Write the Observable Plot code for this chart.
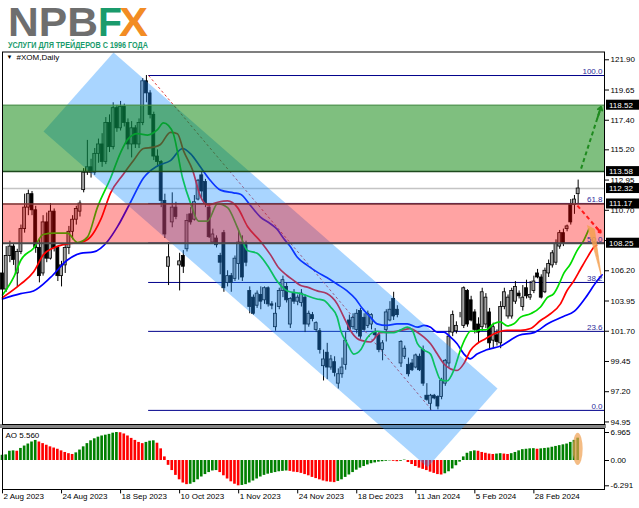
<!DOCTYPE html>
<html><head><meta charset="utf-8">
<script src="https://cdn.jsdelivr.net/npm/d3@7"></script>
<script src="https://cdn.jsdelivr.net/npm/@observablehq/plot@0.6"></script>
<style>
body{margin:0;background:#fff;}
#wrap{position:relative;width:639px;height:508px;overflow:hidden;background:#fff;font-family:"Liberation Sans",Arial,sans-serif;}
#wrap > svg, #wrap > div{position:absolute;left:0;}
</style></head><body><div id="wrap">
<svg id="logo" width="200" height="50" style="top:0">
 <text x="8" y="36" font-family="Liberation Sans, Arial, sans-serif" font-weight="bold" font-size="41" fill="#6e6e6e" textLength="90" lengthAdjust="spacingAndGlyphs">NPB</text>
 <text x="98" y="36" font-family="Liberation Sans, Arial, sans-serif" font-weight="bold" font-size="41" fill="#1a9b6c" textLength="24" lengthAdjust="spacingAndGlyphs">F</text>
 <text x="119" y="36" font-family="Liberation Sans, Arial, sans-serif" font-weight="bold" font-size="41" fill="#f28c24" textLength="29" lengthAdjust="spacingAndGlyphs">X</text>
 <text x="8" y="47.5" font-family="Liberation Sans Narrow, Liberation Sans, Arial, sans-serif" font-weight="bold" font-size="9" fill="#1a9b6c" textLength="140" lengthAdjust="spacingAndGlyphs">УСЛУГИ ДЛЯ ТРЕЙДЕРОВ С 1996 ГОДА</text>
</svg>
</div>
<script>
// ---------- data ----------
const open = [106.0,104.8,107.3,108.0,106.0,107.6,109.3,110.9,111.9,110.7,
107.9,106.0,109.8,107.1,110.6,107.9,105.8,106.6,107.9,109.1,
110.0,110.6,112.2,113.5,113.9,113.5,114.9,115.6,114.3,117.2,
115.4,118.3,116.8,118.4,117.2,115.6,116.8,115.6,117.2,120.3,
119.4,117.8,114.7,114.3,111.4,106.5,109.8,110.9,106.6,107.3,
107.8,110.4,110.0,111.5,113.3,112.8,110.9,108.3,108.6,107.3,
109.0,105.3,105.8,105.6,106.7,108.3,108.1,104.7,104.2,103.6,
104.4,104.0,104.9,103.7,102.0,103.5,104.7,105.0,102.2,104.5,
103.9,103.8,104.2,102.2,102.9,101.8,101.7,99.1,100.1,99.0,
99.4,97.8,98.5,99.2,102.5,102.0,101.8,103.2,102.7,102.1,
102.2,101.6,101.4,100.3,101.8,102.5,104.1,103.3,99.3,99.8,
99.2,99.3,99.0,99.8,100.3,96.9,96.3,96.9,96.8,96.8,
97.8,99.3,101.6,101.7,102.9,102.1,104.7,104.0,103.1,102.2,
102.0,102.2,103.1,101.0,101.4,100.8,103.5,102.8,102.8,103.9,
104.5,103.5,104.9,104.2,104.7,106.0,105.7,104.6,106.0,106.6,
106.8,108.0,109.0,109.3,111.1,111.1,111.9];
const high = [106.6,108.0,108.4,108.2,107.8,109.6,111.9,112.2,112.1,111.0,
108.6,110.3,110.5,111.2,110.8,108.0,106.9,108.2,109.5,110.3,
111.0,111.4,113.8,115.9,114.5,115.3,116.0,116.4,117.6,117.8,
118.7,118.5,118.8,118.6,117.5,117.3,117.0,117.5,120.5,120.73,
119.6,118.0,115.2,114.4,111.9,108.3,112.0,111.3,107.5,107.7,
110.4,110.9,111.8,113.0,113.6,113.0,111.2,109.3,108.8,107.5,
109.2,106.2,106.0,107.3,109.2,108.8,108.4,105.0,104.4,104.7,
105.0,105.0,105.0,103.9,103.8,104.9,105.8,105.3,104.2,104.8,
104.4,104.8,104.4,103.2,103.1,102.4,101.9,100.3,100.8,99.9,
99.8,98.9,99.7,101.6,102.9,103.0,103.3,103.4,103.0,103.2,
103.0,101.9,101.6,101.0,103.3,103.9,104.6,103.6,101.0,100.6,
99.7,99.6,100.0,100.0,100.6,97.8,97.0,97.0,96.9,98.2,
99.6,102.0,103.2,102.4,103.1,105.0,104.8,104.3,103.3,102.7,
104.9,104.5,103.4,102.3,101.8,103.9,104.9,104.4,104.9,105.4,
104.7,105.1,105.5,105.4,105.8,106.3,105.9,106.4,107.0,107.7,
108.5,109.2,109.3,109.6,111.5,111.8,112.95];
const low = [104.3,104.6,106.8,106.6,105.0,107.4,109.0,110.3,110.3,107.5,
105.3,105.8,106.8,107.0,107.6,105.4,105.0,106.0,107.4,108.5,
109.6,110.2,112.0,113.3,113.1,113.3,114.2,113.9,114.1,115.0,
115.2,116.5,116.6,116.9,115.2,114.6,115.3,115.3,117.0,118.7,
117.5,114.4,113.9,110.9,108.6,105.1,109.4,110.0,104.7,106.0,
107.6,109.6,109.9,111.4,111.6,110.9,108.6,108.2,107.9,105.9,
104.6,105.0,104.6,105.4,105.5,105.4,106.5,103.0,102.9,103.4,
103.3,103.7,103.5,103.3,101.7,103.3,104.2,103.8,101.9,103.7,
103.6,103.5,101.6,102.0,102.4,101.6,100.0,98.0,98.1,98.8,
98.3,97.4,98.2,98.8,101.7,101.8,101.5,101.1,101.7,101.9,
101.8,101.2,100.1,99.5,100.9,102.4,102.5,102.7,99.0,99.6,
98.3,98.7,98.9,98.7,97.6,96.5,95.81,96.6,95.85,96.6,
97.6,99.0,101.3,101.5,102.7,101.9,102.0,102.4,101.5,100.8,
101.7,101.9,100.3,100.4,100.6,100.4,103.3,102.6,102.6,103.7,
104.1,103.2,104.1,104.0,104.5,105.6,104.1,104.5,105.7,106.4,
106.6,107.8,108.0,109.1,109.6,110.4,111.2];
const close = [104.8,107.3,108.0,107.0,107.6,109.3,110.9,111.9,110.7,107.9,
105.8,109.8,107.1,110.6,107.9,105.8,106.6,107.9,109.1,110.0,
110.8,111.2,113.5,113.9,113.5,114.9,115.6,114.3,117.2,115.4,
118.3,116.8,118.4,117.2,115.6,116.8,115.6,117.2,120.3,119.4,
117.8,114.7,114.3,111.4,108.9,107.2,110.9,110.2,106.9,106.5,
109.9,109.8,111.3,112.9,112.1,111.2,108.7,108.9,108.1,106.8,
104.9,105.8,105.3,107.1,108.3,105.7,106.8,103.5,103.0,104.5,
103.9,104.9,103.7,103.6,103.0,104.7,105.5,104.0,104.1,103.9,
104.2,104.5,102.2,103.0,102.6,102.3,100.3,99.6,99.0,99.6,
98.6,98.5,99.0,101.0,101.8,102.7,103.0,101.3,101.8,103.0,
102.9,101.4,100.3,100.8,103.1,103.3,102.8,102.9,100.9,100.4,
98.5,98.8,99.9,98.8,97.8,96.6,96.9,96.7,96.1,98.0,
99.5,101.3,102.9,102.1,102.9,104.9,102.2,102.5,101.8,101.6,
104.6,104.2,100.8,102.0,100.9,103.5,104.6,104.2,104.7,105.0,
104.3,104.2,104.3,104.4,105.4,105.7,104.2,106.2,106.7,107.5,
108.2,109.0,108.2,109.5,109.8,111.5,112.32];

const aoValues = [1.3,1.4,2.3,2.4,2.3,3.0,3.6,4.1,4.6,5.0,
4.6,4.2,3.8,3.4,3.1,2.8,2.4,2.0,1.7,1.5,
1.9,2.6,3.4,4.2,4.9,5.4,5.8,6.1,6.3,6.5,
6.8,6.965,6.9,6.6,6.1,5.5,5.0,4.5,4.2,4.5,
4.8,4.9,4.3,2.9,0.9,-1.2,-2.5,-3.7,-4.8,-5.6,
-6.0,-5.9,-5.5,-4.8,-4.1,-3.5,-3.0,-2.6,-2.5,-3.0,
-3.8,-4.6,-5.3,-5.9,-6.291,-6.2,-6.0,-5.6,-5.1,-4.6,
-4.1,-3.7,-3.4,-3.2,-3.0,-2.8,-2.7,-2.6,-2.7,-2.9,
-3.0,-3.2,-3.5,-3.8,-4.2,-4.5,-4.8,-5.1,-5.3,-5.4,
-5.5,-5.2,-4.8,-4.2,-3.6,-3.0,-2.4,-1.9,-1.5,-1.1,
-0.8,-0.6,-0.4,-0.3,-0.2,-0.1,-0.2,-0.3,-0.2,0.1,
-0.5,-1.0,-1.5,-1.9,-2.2,-2.5,-2.9,-3.2,-3.5,-3.6,
-3.3,-2.8,-2.1,-1.3,-0.4,0.9,1.8,2.2,2.4,2.3,
2.0,1.8,1.6,1.5,1.6,1.7,1.6,1.5,1.7,2.0,
2.4,2.7,2.8,2.9,2.95,2.8,2.9,3.0,3.1,3.3,
3.5,3.7,3.9,4.1,4.5,5.0,5.56];

const greenIdx = [0,3,5,8.5,11,14,17.6,20.3,23,25.7,29.3,32,34,36.6,39.3,42,43.6,45,46.3,48.8,51,53.1,55.6,58.3,61,63.7,66.4,69,71.8,74.5,77.2,80.8,85.2,87.1,88.9,90.7,91.6,93.4,95.2,97,98.8,101.5,104.2,106.1,107.9,109.7,111,112.4,114.2,116,117.3,118.7,120.5,122.3,124.1,125.5,126.8,128.2,129.5,131,133.1,134.9,136.8,138.6,140.4,143.1,145.8,147.6,149.4,150.8,152.1,153.9,155.7,157.5,158.9];
const greenVal = [104.4,105.7,107.0,107.9,108.9,109.0,109.0,108.3,108.7,110.9,113.1,115.0,116.0,116.4,116.3,116.7,117.2,117.0,116.4,113.1,111.2,109.9,109.9,111.2,110.9,109.4,107.7,107.5,106.6,105.4,104.7,104.5,104.1,104.0,103.5,102.75,101.8,100.8,100.0,100.3,101.2,101.7,101.6,101.6,101.8,102.0,101.8,100.8,100.3,100.0,99.0,98.1,98.0,98.8,100.3,101.2,101.7,101.7,101.8,101.8,102.25,102.4,102.1,102.25,102.75,103.0,103.5,104.2,104.5,105.2,106.0,106.7,107.7,108.45,109.3];
const redIdx = [0,4.9,8.4,11.1,13.8,17.6,21.1,23.8,26.6,29.3,32.8,35.5,38.2,40.9,42.8,45.5,47.4,49.1,51.5,53.7,55.6,58.3,61,63.7,66.4,69.9,72.6,74.9,77.1,78.8,80.8,82.6,85.3,87.9,90.7,92.5,94.3,96.2,97.5,99.7,102.4,105.1,107.9,110.6,112.4,114.2,116,117.8,119.6,121.4,123.2,125,126.8,128.6,130.9,133.1,136.8,140.4,143.1,145.8,148.5,151.2,153,154.9,156.7,158.5,160.3,161];
const redVal = [104.2,105.2,106.1,107.4,107.9,108.2,108.3,108.7,110.0,112.0,113.4,114.4,115.3,115.4,115.6,116.5,116.4,115.1,113.7,111.7,111.1,111.3,111.4,110.9,109.5,108.4,107.4,106.4,105.85,105.5,105.1,104.98,104.7,104.5,103.74,102.75,101.76,101.14,101.0,100.9,101.6,101.63,101.76,101.9,101.63,101.26,100.77,100.02,99.28,98.9,98.78,99.28,100.27,100.77,101.14,101.5,101.76,101.76,101.9,102.5,103.0,103.74,104.73,105.48,106.35,107.2,107.96,108.1];
const blueIdx = [0,4.9,8.4,13,17.6,21.1,24.7,28.5,31.2,34.7,38.2,42,45.5,48.8,51,53.7,56.4,59.1,62.6,64.5,67.2,69.9,72.6,74.4,76.2,78,79.9,82.6,85.3,87.9,90.7,93.4,95.7,97.5,99.7,101.5,104.2,106.9,109.7,112.4,114.2,116,117.8,119.6,121.4,123.2,125,126.8,128.6,131,135,140,144,148,152,155,158,161,162.5];
const blueVal = [104.1,104.5,104.7,105.7,107.0,107.5,107.6,108.4,109.5,111.3,113.1,114.0,114.4,115.3,114.9,113.9,112.9,112.2,112.0,111.9,111.06,110.2,109.7,109.3,108.6,108.0,107.2,106.6,106.1,105.7,105.2,104.7,104.1,103.4,102.75,102.25,102.13,102.25,102.25,102.0,102.13,102.0,101.63,101.63,101.26,100.77,100.02,99.65,100.0,100.3,100.6,101.4,101.6,102.3,102.8,103.2,104.2,105.4,105.9];

const dateTickIdx = [0,16,32,48,64,80,96,112,128,144];
const dateTickLabels = ["2 Aug 2023","24 Aug 2023","18 Sep 2023","10 Oct 2023","1 Nov 2023","24 Nov 2023","18 Dec 2023","11 Jan 2024","5 Feb 2024","28 Feb 2024"];
const priceTicks = [121.90,119.65,117.40,115.20,112.95,110.70,108.45,106.20,103.95,101.70,99.45,97.20,94.95];
const markedLevels = [118.52,113.58,112.32,111.17,108.25];
const aoTicks = [6.965,0,-6.291];
const aoTickLabels = ["6.965","0.00","-6.291"];

const fibLevels = [0,23.6,38.2,50.0,61.8,100.0];
const fibHigh = 120.73, fibLow = 95.81;
const fibAnchor = {i1: 39.6, p1: 120.73, i2: 116.4, p2: 95.81};
const greenZone = {lo: 113.58, hi: 118.52};
const redZone = {lo: 108.25, hi: 111.17};
const bidPrice = 112.32;

const channelIdx = [30.08, 134.15, 115.2, 11.11];
const channelPrice = [122.44, 97.44, 91.57, 116.57];

const greenArrow = {i1: 156.8, p1: 113.8, i2: 162.2, p2: 118.4};
const redArrow = {i1: 155.8, p1: 111.05, i2: 162.1, p2: 109.05};
const wedgeIdx = [158.6, 160.4, 162.2];
const wedgePrice = [109.55, 109.3, 105.9];

const symbolLabel = "#XOM,Daily";
const aoLabel = "AO 5.560";

// ---------- build ----------
const W = 639, ML = 2, MR = 35;
const xMax = 163.14;
const xDomain = [0, xMax];
const font = "'Liberation Sans', Arial, sans-serif";

const rows = open.map((o, k) => ({i: k, o, h: high[k], l: low[k], c: close[k]}));
const aoRows = aoValues.map((v, k) => ({i: k, v, col: (k === 0 || v > aoValues[k-1]) ? "#008000" : "#ff0000"}));
const pts = (idx, val) => idx.map((i, k) => ({i, p: val[k]}));
const fibRows = fibLevels.map(l => ({l, p: fibLow + (fibHigh - fibLow) * l / 100}));
const headOf = a => ({i1: a.i2 - (a.i2 - a.i1) * 0.18, p1: a.p2 - (a.p2 - a.p1) * 0.18, i2: a.i2, p2: a.p2});

const main = Plot.plot({
  width: W, height: 425,
  marginLeft: ML, marginRight: MR, marginTop: 51.5, marginBottom: 1,
  x: {domain: xDomain, axis: null},
  y: {domain: [94.76, 122.48], axis: "right", ticks: priceTicks, tickFormat: d => d.toFixed(2), tickSize: 4, tickPadding: 2, label: null},
  style: {background: "transparent", overflow: "visible", fontFamily: font, fontSize: "8px", color: "#000"},
  marks: [
    Plot.ruleY(fibRows, {y: "p", x1: () => fibAnchor.i1, x2: () => xMax, stroke: "#00008b", strokeWidth: 1}),
    Plot.link([fibAnchor], {x1: "i1", y1: "p1", x2: "i2", y2: "p2", stroke: "#e03c3c", strokeWidth: 1, strokeDasharray: "2.5,2.5"}),
    Plot.ruleY([bidPrice], {stroke: "#c4c4c4", strokeWidth: 1.5}),
    Plot.ruleX(rows, {x: "i", y1: "l", y2: "h", stroke: "#000", strokeWidth: 1}),
    Plot.rect(rows, {x1: d => d.i - 0.4, x2: d => d.i + 0.4, y1: "o", y2: "c",
      fill: d => d.c >= d.o ? "#a2a2a2" : "#000000", stroke: "#000", strokeWidth: 0.8}),
    Plot.line(pts(blueIdx, blueVal), {x: "i", y: "p", stroke: "#0000ff", strokeWidth: 1.7, curve: "monotone-x"}),
    Plot.line(pts(redIdx, redVal), {x: "i", y: "p", stroke: "#ff0000", strokeWidth: 1.7, curve: "monotone-x"}),
    Plot.line(pts(greenIdx, greenVal), {x: "i", y: "p", stroke: "#00dd00", strokeWidth: 1.7, curve: "monotone-x"}),
    Plot.line(pts(channelIdx, channelPrice), {x: "i", y: "p", fill: "#1e90ff", fillOpacity: 0.38, stroke: "none", curve: "linear-closed"}),
    Plot.rect([redZone], {x1: () => 0, x2: () => xMax, y1: "lo", y2: "hi", fill: "#ff0000", fillOpacity: 0.36}),
    Plot.rect([greenZone], {x1: () => 0, x2: () => xMax, y1: "lo", y2: "hi", fill: "#008000", fillOpacity: 0.5}),
    Plot.ruleY([greenZone.hi], {stroke: "#4f8f4f", strokeWidth: 1}),
    Plot.ruleY([greenZone.lo], {stroke: "#1d4a1d", strokeWidth: 1.5}),
    Plot.ruleY([redZone.hi], {stroke: "#7a3434", strokeWidth: 1.5}),
    Plot.ruleY([redZone.lo], {stroke: "#4a4a4a", strokeWidth: 2}),
    Plot.text(fibRows, {x: () => 162.6, y: "p", text: d => d.l.toFixed(1), textAnchor: "end", dy: -4, fill: "#2b2b9a", fontSize: 8}),
    Plot.line(pts(wedgeIdx, wedgePrice), {x: "i", y: "p", fill: "#f4a050", fillOpacity: 0.85, stroke: "#f4a050", strokeOpacity: 0.6, strokeWidth: 1, curve: "linear-closed"}),
    Plot.link([greenArrow], {x1: "i1", y1: "p1", x2: "i2", y2: "p2", stroke: "#1f8a1f", strokeWidth: 2, strokeDasharray: "4,3"}),
    Plot.arrow([headOf(greenArrow)], {x1: "i1", y1: "p1", x2: "i2", y2: "p2", stroke: "#1f8a1f", strokeWidth: 2, headLength: 8, headAngle: 70}),
    Plot.link([redArrow], {x1: "i1", y1: "p1", x2: "i2", y2: "p2", stroke: "#ff1a1a", strokeWidth: 2, strokeDasharray: "4,3"}),
    Plot.arrow([headOf(redArrow)], {x1: "i1", y1: "p1", x2: "i2", y2: "p2", stroke: "#ff1a1a", strokeWidth: 2, headLength: 8, headAngle: 70}),
    Plot.text(["▼"], {frameAnchor: "top-left", dx: 4, dy: 3, fontSize: 6, fill: "#000"}),
    Plot.text([symbolLabel], {frameAnchor: "top-left", dx: 14, dy: 2, fill: "#000"}),
    Plot.frame({stroke: "#000", strokeWidth: 1})
  ]
});

const ao = Plot.plot({
  width: W, height: 83,
  marginLeft: ML, marginRight: MR, marginTop: 3, marginBottom: 19,
  x: {domain: xDomain, axis: null},
  y: {domain: [-7.21, 7.96], axis: "right", ticks: aoTicks, tickFormat: d => aoTickLabels[aoTicks.indexOf(d)], tickSize: 4, tickPadding: 2, label: null},
  style: {background: "#fff", fontFamily: font, fontSize: "8px", color: "#000"},
  marks: [
    Plot.rect(aoRows, {x1: d => d.i - 0.36, x2: d => d.i + 0.36, y1: () => 0, y2: "v", fill: "col"}),
    Plot.ruleX(dateTickIdx, {x: d => d, y1: () => -7.21, y2: () => -8.3, stroke: "#000"}),
    Plot.text(dateTickIdx, {x: d => d, frameAnchor: "bottom", text: (d, k) => dateTickLabels[k], textAnchor: "start", lineAnchor: "top", dx: 1, dy: 4, fill: "#000"}),
    Plot.text([aoLabel], {frameAnchor: "top-left", dx: 3, dy: 4, fill: "#000"}),
    Plot.frame({stroke: "#000", strokeWidth: 1})
  ]
});

// highlight ellipse around the last AO bar
{
  const xs = ao.scale("x"), ys = ao.scale("y");
  const last = aoRows[aoRows.length - 1];
  const y0 = ys.apply(0), y1 = ys.apply(last.v);
  d3.select(ao).append("ellipse")
    .attr("cx", xs.apply(last.i)).attr("cy", (y0 + y1) / 2)
    .attr("rx", 5).attr("ry", Math.abs(y0 - y1) / 2 + 5)
    .attr("fill", "#f0a050").attr("fill-opacity", 0.7);
}

// price labels with black boxes on the right scale
{
  const ys = main.scale("y");
  const g = d3.select(main).append("g").attr("text-anchor", "start");
  const x0 = W - MR + 2;
  for (const v of markedLevels) {
    const y = ys.apply(v);
    g.append("rect").attr("x", x0).attr("y", y - 5).attr("width", W - x0).attr("height", 10).attr("fill", "#000");
    g.append("text").attr("x", x0 + 3).attr("y", y + 3).attr("fill", "#fff").attr("text-anchor", "start")
      .attr("font-family", font).attr("font-size", 8).text(v.toFixed(2));
  }
}

const wrap = document.getElementById("wrap");
ao.style.top = "425px"; ao.style.position = "absolute"; ao.style.left = "0px";
wrap.appendChild(ao);
const band = document.createElement("div");
band.style.cssText = "position:absolute;left:0;top:424px;width:606px;height:4px;background:#858585;";
wrap.appendChild(band);
main.style.top = "0px"; main.style.position = "absolute"; main.style.left = "0px";
wrap.appendChild(main);
</script></body></html>
